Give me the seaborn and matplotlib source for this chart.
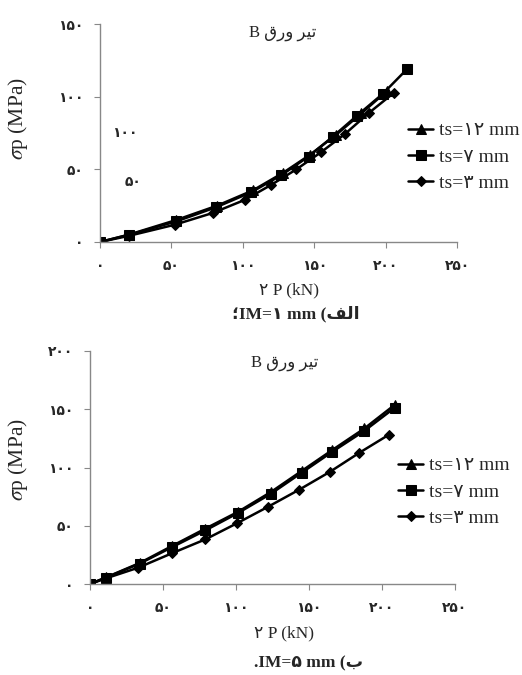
import matplotlib
matplotlib.use("Agg")
import matplotlib.pyplot as plt
import seaborn as sns
import pandas as pd

# ---- data ----
series_names = ["ts=\u06F1\u06F2 mm", "ts=\u06F7 mm", "ts=\u06F3 mm"]

# (a) IM = 1 mm
a_x12 = [0, 20, 53, 82, 107, 128, 147, 165, 183, 201]
a_y12 = [0, 5, 15, 25, 35.5, 47.5, 60, 73.5, 88.5, 104]
a_x7 = [0, 20.5, 53.5, 81.5, 106, 127, 146, 163, 180, 198, 215]
a_y7 = [0, 5, 14.2, 24, 34.3, 46, 58.8, 72.5, 87, 102, 119]
a_x3 = [0, 20.5, 52.4, 79, 101.4, 120, 137.5, 154.5, 171.6, 188, 205.8]
a_y3 = [0, 4.3, 11.9, 20, 29, 39.4, 50, 61.6, 74.4, 88.6, 102.7]

# (b) IM = 5 mm
b_x12 = [0, 11, 34, 56, 79, 101.5, 124, 145, 166, 188, 209]
b_y12 = [0, 5.7, 18, 32.5, 47.5, 62, 79, 97, 115, 133.5, 154]
b_x7 = [0, 11, 34, 56, 79, 101.5, 124, 145, 166, 188, 209]
b_y7 = [0, 5.5, 17.5, 31.5, 46, 61, 77.5, 95.5, 113.5, 131.5, 151.5]
b_x3 = [0, 11, 33, 56, 79, 100.5, 122, 143.4, 164.4, 184.5, 205]
b_y3 = [0, 4.9, 14, 26.3, 38.3, 52, 66.3, 81, 96.3, 112.6, 128.3]

fa = str.maketrans("0123456789", "\u06F0\u06F1\u06F2\u06F3\u06F4\u06F5\u06F6\u06F7\u06F8\u06F9")
x_ticks = [0, 50, 100, 150, 200, 250]
a_yticks = [0, 50, 100, 150]
b_yticks = [0, 50, 100, 150, 200]

# visual-order Arabic presentation forms (matplotlib has no RTL shaping)
title_txt = "B \uFED5\uFEAD\uFEED \uFEAE\uFEF4\uFE97"       # تیر ورق B
xlabel_txt = "\u06F2 P (kN)"
ylabel_txt = r"$\sigma$p (MPa)"
cap_a = "\u061BIM=\u06F1 mm (\uFED2\uFEDF\uFE8D"            # الف) IM=۱ mm؛
cap_b = ".IM=\u06F5 mm (\uFE8F"                              # ب) IM=۵ mm.
stray_texts = [("\u06F1\u06F0\u06F0", 17.5, 75), ("\u06F5\u06F0", 23, 41.6)]

def make_df(xs, ys):
    rows = []
    for name, x, y in zip(series_names, xs, ys):
        for xi, yi in zip(x, y):
            rows.append({"P": xi, "S": yi, "series": name})
    return pd.DataFrame(rows)

df_a = make_df([a_x12, a_x7, a_x3], [a_y12, a_y7, a_y3])
df_b = make_df([b_x12, b_x7, b_x3], [b_y12, b_y7, b_y3])

sns.set_style("ticks")
plt.rcParams["font.family"] = ["Liberation Serif", "DejaVu Sans"]
plt.rcParams["mathtext.fontset"] = "stix"

fig = plt.figure(figsize=(5.22, 6.75), dpi=100)
ax_a = fig.add_axes([0.1916, 0.6415, 0.684, 0.3229])
ax_b = fig.add_axes([0.1724, 0.1348, 0.699, 0.3452])

markers = {series_names[0]: "^", series_names[1]: "s", series_names[2]: "D"}
sizes_m = {series_names[0]: 6.5, series_names[1]: 6.5, series_names[2]: 5}

def draw(ax, df, ymax, yticks, legend_x, legend_y):
    for name in series_names:
        sub = df[df.series == name]
        sns.lineplot(data=sub, x="P", y="S", ax=ax, color="black",
                     marker=markers[name], markersize=sizes_m[name],
                     linewidth=1.8, label=name, sort=False,
                     markeredgecolor="black", markerfacecolor="black")
    ax.set_xlim(0, 250)
    ax.set_ylim(0, ymax)
    ax.set_xticks(x_ticks)
    ax.set_xticklabels([str(t).translate(fa) for t in x_ticks],
                       family="DejaVu Sans", fontsize=10, fontweight="bold")
    ax.set_yticks(yticks)
    ax.set_yticklabels([str(t).translate(fa) for t in yticks],
                       family="DejaVu Sans", fontsize=10, fontweight="bold")
    ax.tick_params(axis="both", direction="out", length=4, width=0.8,
                   color="#888888", pad=8)
    sns.despine(ax=ax)
    for s in ["left", "bottom"]:
        ax.spines[s].set_color("#888888")
        ax.spines[s].set_linewidth(1.0)
    ax.set_xlabel("")
    ax.set_ylabel("")
    leg = ax.legend(loc="center left", bbox_to_anchor=(legend_x, legend_y),
                    bbox_transform=fig.transFigure, frameon=False,
                    fontsize=14, handlelength=1.3, handletextpad=0.3,
                    labelspacing=0.45, borderpad=0, borderaxespad=0)
    return leg

draw(ax_a, df_a, 150, a_yticks, 408 / 522, 1 - 157 / 675)
draw(ax_b, df_b, 200, b_yticks, 398 / 522, 1 - 492 / 675)

for t, x, y in stray_texts:
    ax_a.text(x, y, t, family="DejaVu Sans", fontsize=10, fontweight="bold",
              ha="center", va="center")

# titles
fig.text(283 / 522, 1 - 33 / 675, title_txt, fontsize=12, ha="center", va="center")
fig.text(285 / 522, 1 - 363 / 675, title_txt, fontsize=12, ha="center", va="center")
# x labels
fig.text(289 / 522, 1 - 290 / 675, xlabel_txt, fontsize=12.5, ha="center", va="center")
fig.text(284 / 522, 1 - 633 / 675, xlabel_txt, fontsize=12.5, ha="center", va="center")
# y labels
fig.text(18 / 522, 1 - 119 / 675, ylabel_txt, fontsize=15.5, ha="center", va="center", rotation=90)
fig.text(18 / 522, 1 - 460 / 675, ylabel_txt, fontsize=15.5, ha="center", va="center", rotation=90)
# captions
fig.text(296 / 522, 1 - 314 / 675, cap_a, fontsize=12.5, fontweight="bold", ha="center", va="center")
fig.text(308 / 522, 1 - 663 / 675, cap_b, fontsize=12.5, fontweight="bold", ha="center", va="center")

fig.savefig("out.png", dpi=100)
